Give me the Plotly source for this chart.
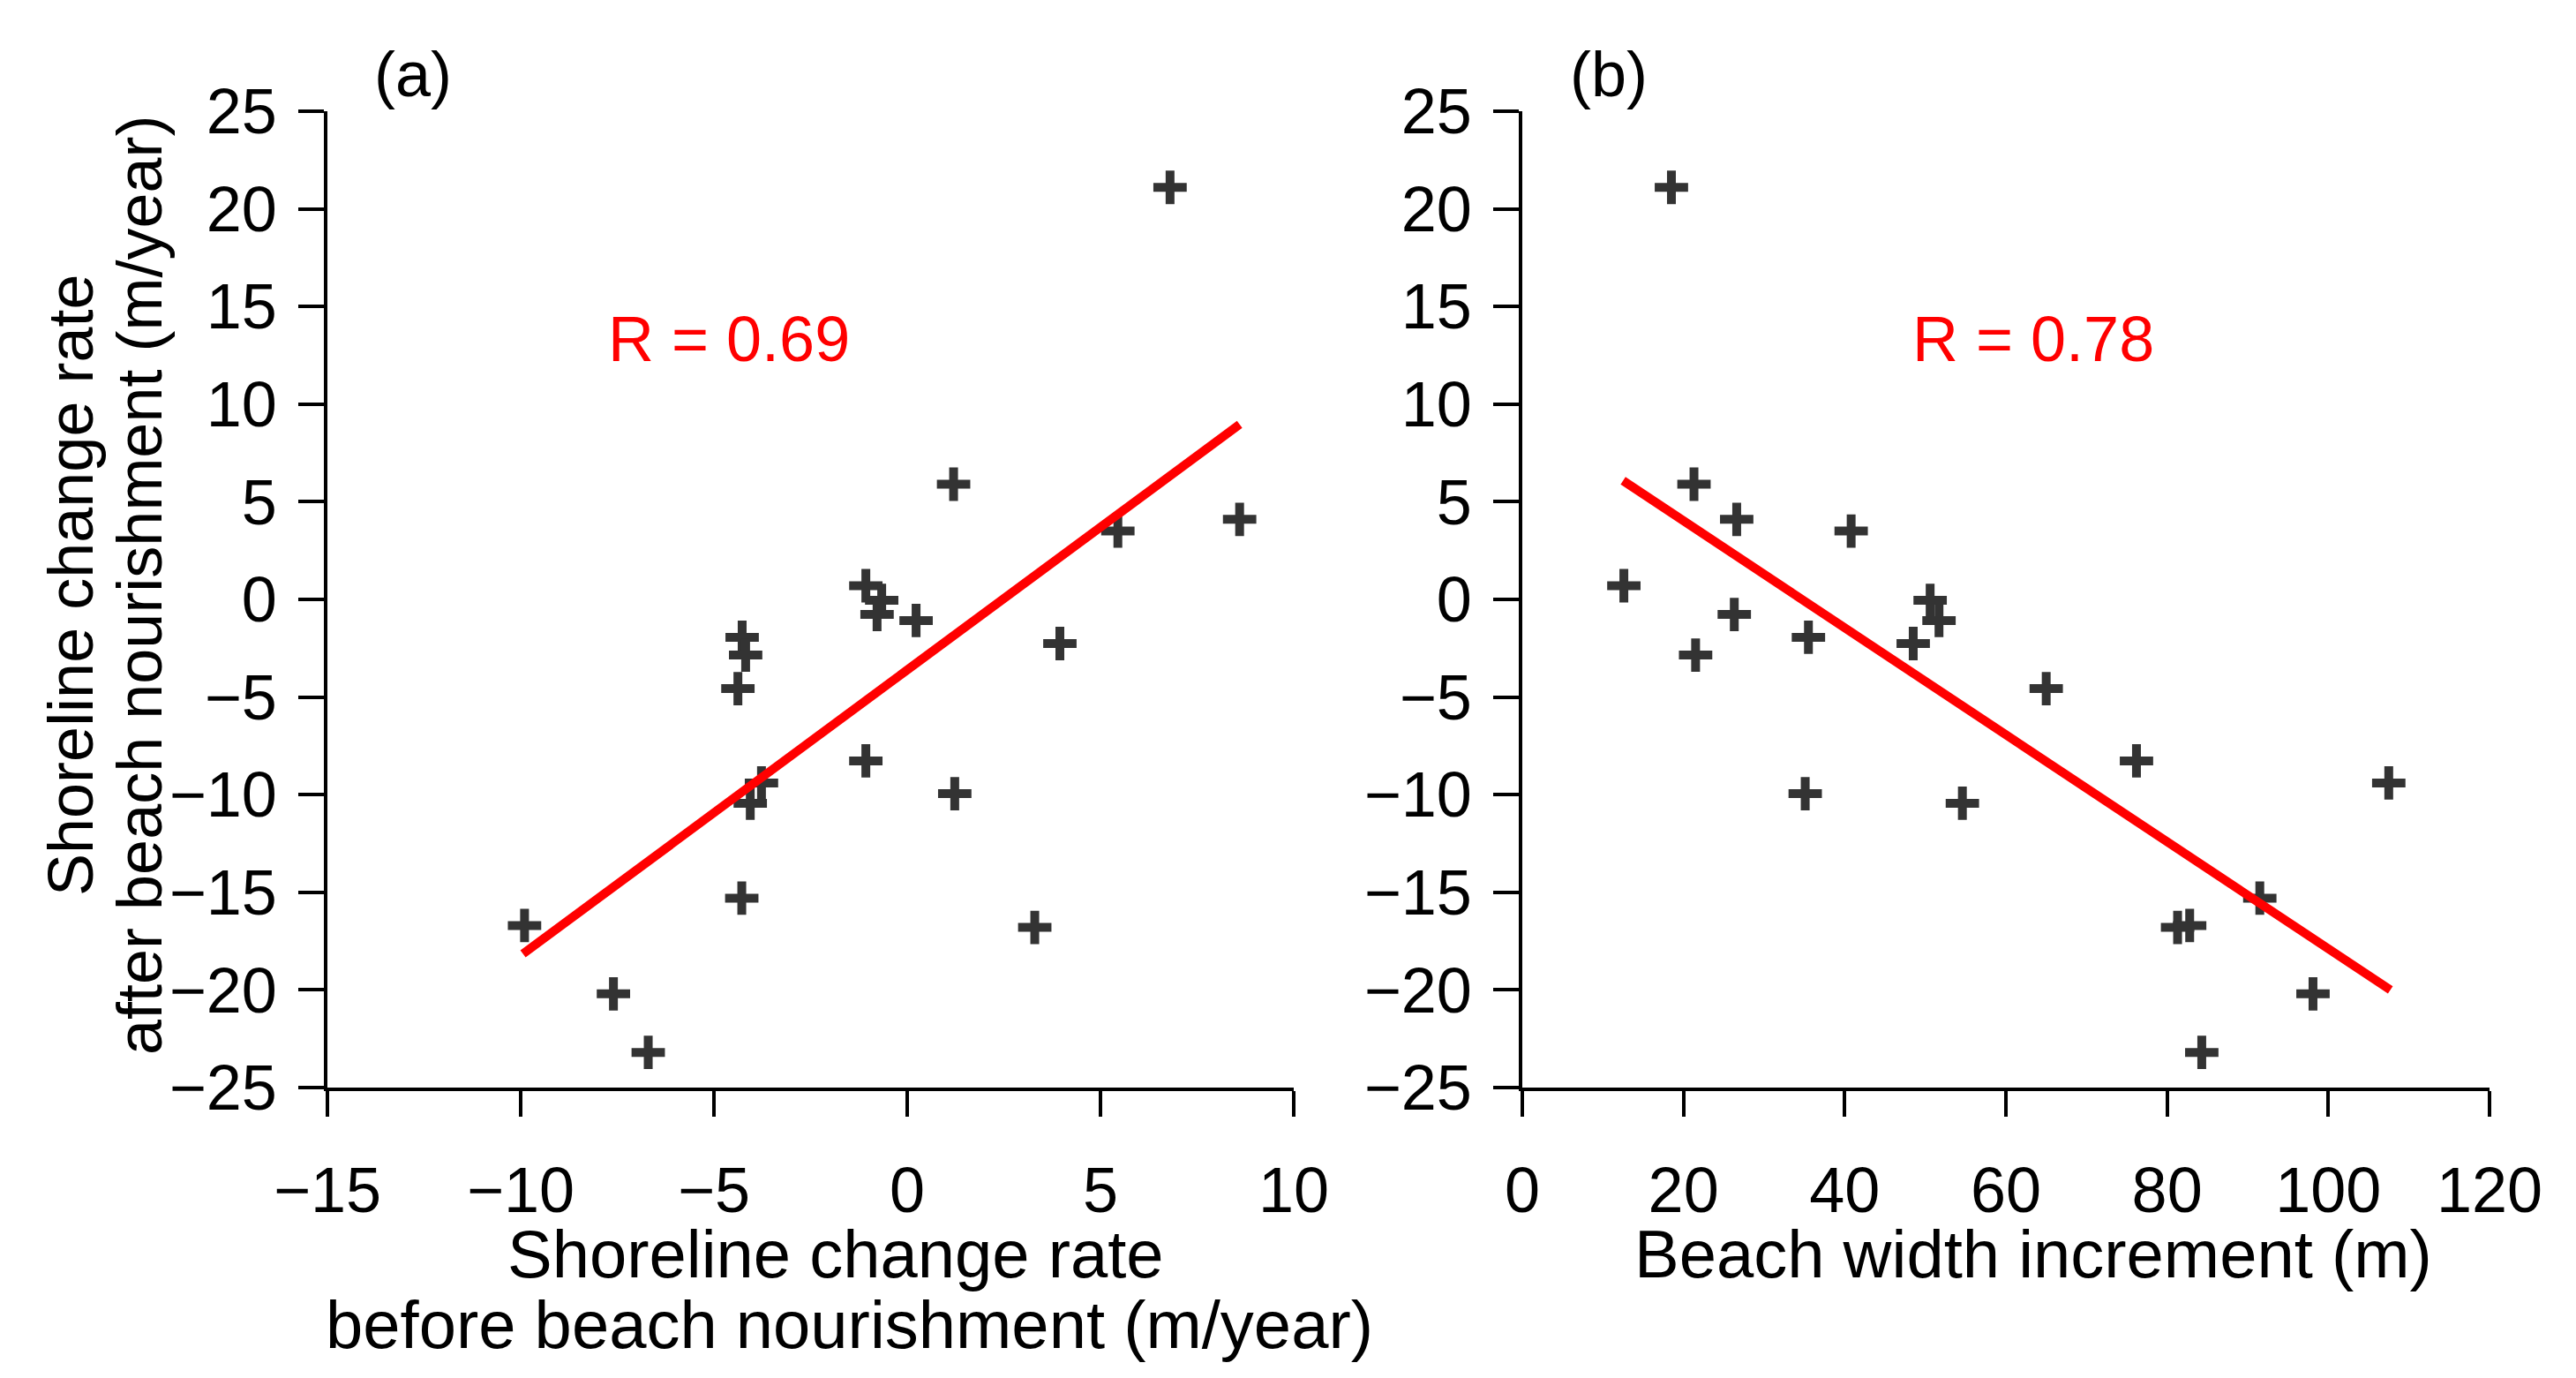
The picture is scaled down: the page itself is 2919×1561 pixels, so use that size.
import plotly.graph_objects as go

# ---- data ----
rate_after = [21.1, 5.9, 4.1, 3.5, 0.7, -0.05, -0.77, -1.08, -2.26, -1.94, -2.85,
              -4.57, -8.27, -9.95, -9.4, -10.44, -15.3, -16.8, -16.7, -20.2, -23.2]
rate_before = [6.8, 1.2, 8.6, 5.45, -1.07, -0.66, -0.78, 0.23, 3.95, -4.27, -4.18,
               -4.38, -1.07, 1.23, -3.77, -4.06, -4.28, 3.3, -9.9, -7.6, -6.7]
width_inc = [18.5, 21.3, 26.6, 40.8, 12.6, 50.6, 26.3, 51.7, 48.5, 35.5, 21.5,
             65.0, 76.2, 35.1, 107.5, 54.6, 91.5, 81.3, 82.8, 98.1, 84.3]

fit_a_x = [-9.94, 8.6]
fit_a_y = [-18.15, 8.96]
fit_b_x = [12.5, 107.7]
fit_b_y = [6.08, -20.0]

r_a_text = "R = 0.69"
r_b_text = "R = 0.78"
r_a_pos = (-4.61, 13.35)
r_b_pos = (63.4, 13.35)

y_ticks = [-25, -20, -15, -10, -5, 0, 5, 10, 15, 20, 25]
xa_ticks = [-15, -10, -5, 0, 5, 10]
xb_ticks = [0, 20, 40, 60, 80, 100, 120]

W, H = 2919, 1561
FONT = "Arial, Liberation Sans, sans-serif"
MARK = "#333333"

fig = go.Figure()

marker = dict(symbol="cross-thin", size=27, color=MARK, line=dict(color=MARK, width=10))

fig.add_trace(go.Scatter(x=rate_before, y=rate_after, mode="markers", marker=marker,
                         xaxis="x", yaxis="y", showlegend=False))
fig.add_trace(go.Scatter(x=fit_a_x, y=fit_a_y, mode="lines",
                         line=dict(color="#FF0000", width=10),
                         xaxis="x", yaxis="y", showlegend=False))
fig.add_trace(go.Scatter(x=width_inc, y=rate_after, mode="markers", marker=marker,
                         xaxis="x2", yaxis="y2", showlegend=False))
fig.add_trace(go.Scatter(x=fit_b_x, y=fit_b_y, mode="lines",
                         line=dict(color="#FF0000", width=10),
                         xaxis="x2", yaxis="y2", showlegend=False))

ax_common = dict(showline=True, linecolor="black", linewidth=3.5, ticks="outside",
                 ticklen=29, tickwidth=3.5, tickcolor="black", showgrid=False,
                 zeroline=False, tickfont=dict(family=FONT, size=72, color="black"),
                 fixedrange=True, automargin=False)

ya_dom = [1 - 1224 / H, 1 - 118 / H]

fig.update_layout(
    width=W, height=H, autosize=False,
    margin=dict(l=0, r=0, t=0, b=0, pad=0),
    paper_bgcolor="white", plot_bgcolor="white",
    font=dict(family=FONT, color="black"),
    xaxis=dict(domain=[363 / W, 1458 / W], range=[-15, 10], tickvals=xa_ticks,
               anchor="y", ticklabelstandoff=22, **ax_common),
    yaxis=dict(domain=ya_dom, range=[-25, 25], tickvals=y_ticks, anchor="x",
               ticklabelstandoff=10, **ax_common),
    xaxis2=dict(domain=[1717 / W, 2813 / W], range=[0, 120], tickvals=xb_ticks,
                anchor="y2", ticklabelstandoff=22, **ax_common),
    yaxis2=dict(domain=ya_dom, range=[-25, 25], tickvals=y_ticks, anchor="x2",
                ticklabelstandoff=10, **ax_common),
)

ann = []
def paper_text(text, x, y, size=72, color="black", angle=0):
    ann.append(dict(text=text, x=x / W, y=1 - y / H, xref="paper", yref="paper",
                    xanchor="center", yanchor="middle", showarrow=False,
                    textangle=angle, font=dict(family=FONT, size=size, color=color)))

paper_text("(a)", 460, 76)
paper_text("(b)", 1815, 76)
paper_text("Shoreline change rate", 939, 1412, size=76)
paper_text("before beach nourishment (m/year)", 955, 1492, size=76)
paper_text("Beach width increment (m)", 2296, 1412, size=76)
paper_text("Shoreline change rate", 72, 655, size=72, angle=-90)
paper_text("after beach nourishment (m/year)", 150, 655, size=72, angle=-90)

ann.append(dict(text=r_a_text, x=r_a_pos[0], y=r_a_pos[1], xref="x", yref="y",
                showarrow=False, xanchor="center", yanchor="middle",
                font=dict(family=FONT, size=72, color="#FF0000")))
ann.append(dict(text=r_b_text, x=r_b_pos[0], y=r_b_pos[1], xref="x2", yref="y2",
                showarrow=False, xanchor="center", yanchor="middle",
                font=dict(family=FONT, size=72, color="#FF0000")))

fig.update_layout(annotations=ann)

fig.write_html("out.html")
